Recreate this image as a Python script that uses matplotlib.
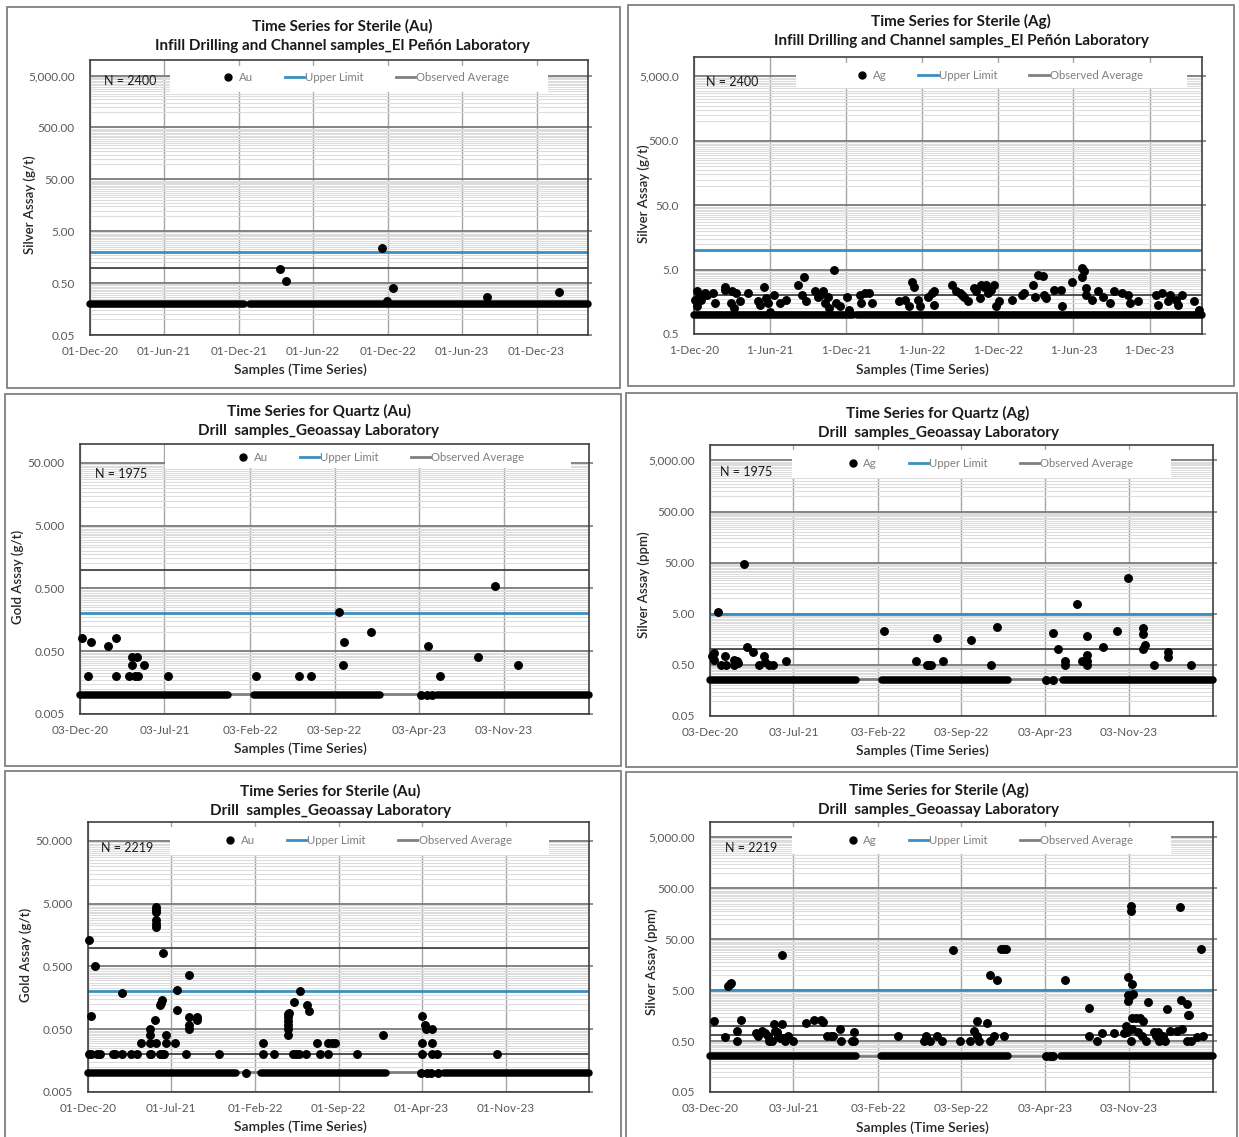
import numpy as np
import pandas as pd
import matplotlib
matplotlib.use("Agg")
import matplotlib.pyplot as plt
from matplotlib.ticker import FixedLocator, FuncFormatter, NullFormatter
from matplotlib.patches import Rectangle
from matplotlib.lines import Line2D

plt.rcParams['font.family'] = ['Lato', 'DejaVu Sans']

######################## DATA ############################

# --- Sterile (Au), infill drilling & channels, El Peñón lab ---
p1_dates = ["2022-03-13", "2022-03-26", "2022-11-17", "2022-11-30", "2022-12-13",
            "2023-08-01", "2024-01-24"]
p1_values = [0.95, 0.56, 2.4, 0.23, 0.40, 0.27, 0.33]
p1_runs = [("2020-12-01", "2021-12-13"), ("2021-12-29", "2024-04-05")]
p1_base = 0.2
p1_upper = 2.0
p1_avg = 0.21
p1_refs = [1.0]

# --- Sterile (Ag), infill drilling & channels, El Peñón lab ---
p2_dates = ["2020-12-04", "2020-12-09", "2020-12-09", "2020-12-13", "2020-12-18", "2020-12-28",
            "2021-01-02", "2021-01-16", "2021-01-21", "2021-02-14", "2021-02-14", "2021-02-28",
            "2021-03-03", "2021-03-07", "2021-03-12", "2021-03-22", "2021-04-10", "2021-05-04",
            "2021-05-08", "2021-05-18", "2021-05-23", "2021-05-27", "2021-06-02", "2021-06-11",
            "2021-06-25", "2021-07-10", "2021-08-07", "2021-08-22", "2021-08-17", "2021-08-27",
            "2021-09-19", "2021-09-24", "2021-09-29", "2021-10-08", "2021-10-13", "2021-10-18",
            "2021-10-22", "2021-11-02", "2021-11-07", "2021-11-16", "2021-12-04", "2021-12-09",
            "2022-01-03", "2022-01-07", "2022-01-16", "2022-01-26", "2022-02-01", "2022-04-07",
            "2022-04-21", "2022-05-01", "2022-05-10", "2022-05-14", "2022-05-24", "2022-05-28",
            "2022-06-16", "2022-06-26", "2022-07-01", "2022-07-01", "2022-08-13", "2022-08-22",
            "2022-09-02", "2022-09-07", "2022-09-11", "2022-09-21", "2022-10-04", "2022-10-09",
            "2022-10-19", "2022-10-23", "2022-10-28", "2022-11-02", "2022-11-07", "2022-11-16",
            "2022-11-21", "2022-11-26", "2022-12-05", "2023-01-04", "2023-01-28", "2023-02-01",
            "2023-02-24", "2023-03-01", "2023-03-09", "2023-03-19", "2023-03-23", "2023-03-28",
            "2023-04-16", "2023-05-01", "2023-05-05", "2023-05-29", "2023-06-22", "2023-06-27",
            "2023-06-22", "2023-07-02", "2023-07-02", "2023-07-16", "2023-07-31", "2023-08-10",
            "2023-08-28", "2023-09-07", "2023-09-26", "2023-10-10", "2023-10-15", "2023-11-03",
            "2023-12-16", "2023-12-21", "2024-01-01", "2024-01-14", "2024-01-19", "2024-02-02",
            "2024-02-07", "2024-02-16", "2024-03-16", "2024-03-29"]
p2_values = [1.7, 2.3, 1.35, 1.9, 1.7, 2.15,
             2.0, 2.15, 1.5, 2.7, 2.4, 1.5,
             2.3, 1.25, 2.15, 1.6, 2.15, 1.6,
             1.4, 2.7, 1.8, 1.5, 1.1, 2.0,
             1.5, 1.7, 2.9, 3.9, 2.0, 1.6,
             2.3, 1.9, 2.0, 2.3, 1.5, 1.9,
             1.25, 5.0, 1.5, 1.35, 1.9, 1.2,
             2.0, 1.5, 2.15, 2.15, 1.5, 1.6,
             1.7, 1.35, 3.25, 2.7, 1.7, 1.35,
             1.9, 2.15, 2.3, 1.4, 2.9, 2.3,
             2.15, 2.0, 1.9, 1.6, 2.55, 2.3,
             1.8, 2.9, 2.7, 2.9, 2.15, 2.4,
             2.9, 1.35, 1.6, 1.7, 2.0, 2.15,
             2.9, 1.9, 4.1, 4.0, 2.0, 1.8,
             2.4, 2.4, 1.35, 3.25, 5.2, 4.7,
             3.9, 2.55, 2.0, 1.7, 2.3, 1.9,
             1.5, 2.3, 2.15, 2.0, 1.5, 1.6,
             2.0, 1.4, 2.15, 1.6, 2.0, 1.7,
             1.4, 2.0, 1.6, 1.2]
p2_runs = [("2020-12-01", "2021-12-19"), ("2021-12-28", "2024-04-05")]
p2_base = 1.0
p2_upper = 10.0
p2_avg = 1.1
p2_refs = [2.0]

# --- Quartz (Au), drill samples, Geoassay lab ---
p3_dates = ["2020-12-07", "2020-12-24", "2020-12-31", "2021-02-11", "2021-03-03", "2021-03-04",
            "2021-04-04", "2021-04-12", "2021-04-12", "2021-04-19", "2021-04-26", "2021-04-27",
            "2021-05-13", "2021-07-12", "2022-02-18", "2022-06-07", "2022-07-06", "2022-09-14",
            "2022-09-24", "2022-09-27", "2022-12-04", "2023-04-07", "2023-04-24", "2023-04-25",
            "2023-05-07", "2023-05-25", "2023-08-29", "2023-10-11", "2023-12-07"]
p3_values = [0.08, 0.02, 0.07, 0.06, 0.08, 0.02,
             0.02, 0.04, 0.03, 0.02, 0.04, 0.02,
             0.03, 0.02, 0.02, 0.02, 0.02, 0.21,
             0.03, 0.07, 0.1, 0.01, 0.01, 0.06,
             0.01, 0.02, 0.04, 0.54, 0.03]
p3_runs = [("2020-12-03", "2021-12-10"), ("2022-02-12", "2022-12-27"), ("2023-05-18", "2024-06-03")]
p3_base = 0.01
p3_upper = 0.2
p3_avg = 0.0105
p3_refs = [1.0]

# --- Quartz (Ag), drill samples, Geoassay lab ---
p4_dates = ["2020-12-07", "2020-12-12", "2020-12-13", "2020-12-23", "2020-12-30", "2021-01-09",
            "2021-01-12", "2021-02-01", "2021-02-03", "2021-02-09", "2021-02-13", "2021-02-28",
            "2021-03-07", "2021-03-21", "2021-04-06", "2021-04-19", "2021-04-21", "2021-05-02",
            "2021-05-12", "2021-06-15", "2022-02-18", "2022-05-11", "2022-06-08", "2022-06-13",
            "2022-06-18", "2022-07-04", "2022-07-18", "2022-09-28", "2022-11-16", "2022-12-03",
            "2023-04-06", "2023-04-24", "2023-04-24", "2023-05-05", "2023-05-25", "2023-05-25",
            "2023-06-23", "2023-07-05", "2023-07-18", "2023-07-18", "2023-07-18", "2023-07-18",
            "2023-08-29", "2023-10-04", "2023-10-30", "2023-12-07", "2023-12-07", "2023-12-07",
            "2023-12-13", "2024-01-04", "2024-02-10", "2024-02-10", "2024-04-09"]
p4_values = [0.73, 0.63, 0.85, 5.3, 0.5, 0.73,
             0.5, 0.5, 0.63, 0.6, 0.54, 48.0,
             1.13, 0.88, 0.5, 0.73, 0.58, 0.5,
             0.5, 0.6, 2.32, 0.6, 0.5, 0.5,
             0.5, 1.71, 0.6, 1.5, 0.5, 2.74,
             0.25, 2.12, 0.25, 1.0, 0.6, 0.5,
             7.85, 0.6, 1.8, 0.78, 0.6, 0.5,
             1.13, 2.32, 24.5, 2.6, 2.05, 1.0,
             1.2, 0.5, 0.9, 0.7, 0.5]
p4_runs = [("2020-12-03", "2021-12-08"), ("2022-02-13", "2022-12-30"), ("2023-05-19", "2024-06-03")]
p4_base = 0.25
p4_upper = 5.0
p4_avg = 0.26
p4_refs = [1.0]

# --- Sterile (Au), drill samples, Geoassay lab ---
p5_dates = ["2020-12-03", "2020-12-08", "2020-12-20", "2020-12-04", "2020-12-09", "2020-12-24",
            "2020-12-31", "2021-02-02", "2021-02-07", "2021-02-26", "2021-02-26", "2021-03-20",
            "2021-04-04", "2021-04-14", "2021-05-07", "2021-05-07", "2021-05-07", "2021-05-07",
            "2021-05-11", "2021-05-22", "2021-05-24", "2021-05-24", "2021-05-24", "2021-05-24",
            "2021-05-24", "2021-05-24", "2021-05-24", "2021-06-03", "2021-06-03", "2021-06-05",
            "2021-06-08", "2021-06-08", "2021-06-11", "2021-06-13", "2021-06-19", "2021-06-19",
            "2021-07-11", "2021-07-16", "2021-07-17", "2021-08-08", "2021-08-15", "2021-08-15",
            "2021-08-15", "2021-08-15", "2021-09-04", "2021-09-04", "2021-11-01", "2022-01-07",
            "2022-02-20", "2022-02-20", "2022-03-20", "2022-04-25", "2022-04-25", "2022-04-25",
            "2022-04-25", "2022-04-25", "2022-04-25", "2022-04-29", "2022-05-07", "2022-05-10",
            "2022-05-15", "2022-05-22", "2022-05-27", "2022-06-10", "2022-06-13", "2022-06-19",
            "2022-07-09", "2022-07-16", "2022-08-05", "2022-08-05", "2022-08-15", "2022-08-23",
            "2022-10-19", "2022-12-24", "2023-03-30", "2023-04-01", "2023-04-01", "2023-04-01",
            "2023-04-09", "2023-04-11", "2023-04-14", "2023-04-26", "2023-04-27", "2023-04-27",
            "2023-04-27", "2023-05-09", "2023-05-12", "2023-10-11"]
p5_values = [1.32, 0.08, 0.5, 0.02, 0.02, 0.02,
             0.02, 0.02, 0.02, 0.02, 0.19, 0.02,
             0.02, 0.03, 0.02, 0.03, 0.04, 0.05,
             0.02, 0.07, 0.03, 4.4, 4.0, 3.65,
             2.7, 2.4, 2.15, 0.02, 0.12, 0.133,
             0.02, 0.148, 0.81, 0.02, 0.04, 0.03,
             0.03, 0.21, 0.1, 0.02, 0.36, 0.078,
             0.059, 0.05, 0.078, 0.07, 0.02, 0.01,
             0.03, 0.02, 0.02, 0.088, 0.078, 0.067,
             0.058, 0.05, 0.04, 0.092, 0.02, 0.137,
             0.02, 0.02, 0.2, 0.02, 0.12, 0.098,
             0.03, 0.02, 0.03, 0.02, 0.03, 0.03,
             0.02, 0.04, 0.01, 0.08, 0.03, 0.02,
             0.059, 0.051, 0.01, 0.01, 0.05, 0.03,
             0.02, 0.02, 0.01, 0.02]
p5_runs = [("2020-12-01", "2021-12-14"), ("2022-02-15", "2023-01-01"), ("2023-05-29", "2024-06-01")]
p5_base = 0.01
p5_upper = 0.2
p5_avg = 0.0105
p5_refs = [1.0, 0.02]

# --- Sterile (Ag), drill samples, Geoassay lab ---
p6_dates = ["2020-12-12", "2021-01-11", "2021-01-19", "2021-01-22", "2021-01-25", "2021-02-10",
            "2021-02-10", "2021-02-19", "2021-03-30", "2021-04-04", "2021-04-14", "2021-04-22",
            "2021-04-29", "2021-05-02", "2021-05-09", "2021-05-14", "2021-05-16", "2021-05-22",
            "2021-05-26", "2021-05-29", "2021-06-03", "2021-06-03", "2021-06-08", "2021-06-11",
            "2021-06-18", "2021-07-03", "2021-08-03", "2021-08-23", "2021-09-12", "2021-09-16",
            "2021-09-26", "2021-10-06", "2021-10-11", "2021-10-29", "2021-11-02", "2021-11-30",
            "2021-12-03", "2021-12-05", "2022-03-26", "2022-05-31", "2022-06-06", "2022-06-14",
            "2022-07-03", "2022-07-15", "2022-08-12", "2022-08-29", "2022-09-24", "2022-10-06",
            "2022-10-13", "2022-10-13", "2022-10-18", "2022-11-06", "2022-11-15", "2022-11-15",
            "2022-11-25", "2022-12-02", "2022-12-13", "2022-12-20", "2022-12-25", "2022-12-20",
            "2023-04-06", "2023-04-16", "2023-04-24", "2023-05-24", "2023-07-23", "2023-07-23",
            "2023-08-14", "2023-08-27", "2023-09-26", "2023-10-21", "2023-10-26", "2023-10-29",
            "2023-10-31", "2023-10-31", "2023-11-01", "2023-11-05", "2023-11-08", "2023-11-08",
            "2023-11-08", "2023-11-10", "2023-11-10", "2023-11-10", "2023-11-14", "2023-11-20",
            "2023-11-25", "2023-11-30", "2023-12-05", "2023-12-08", "2023-12-15", "2023-12-20",
            "2024-01-04", "2024-01-09", "2024-01-14", "2024-01-19", "2024-01-29", "2024-02-03",
            "2024-02-08", "2024-02-16", "2024-03-04", "2024-03-11", "2024-03-14", "2024-03-17",
            "2024-03-29", "2024-03-29", "2024-03-31", "2024-04-03", "2024-04-08", "2024-04-23",
            "2024-05-04", "2024-05-08"]
p6_values = [1.22, 0.6, 5.9, 6.5, 7.0, 0.8,
             0.5, 1.3, 0.72, 0.62, 0.8, 0.72,
             0.62, 0.5, 0.5, 1.08, 0.8, 0.77,
             0.64, 0.57, 25.0, 1.08, 0.57, 0.5,
             0.62, 0.5, 1.13, 1.32, 1.32, 1.2,
             0.62, 0.62, 0.62, 0.87, 0.5, 0.5,
             0.77, 0.5, 0.62, 0.5, 0.62, 0.5,
             0.62, 0.5, 30.0, 0.5, 0.5, 0.8,
             1.22, 0.62, 0.5, 1.13, 10.0, 0.5,
             0.62, 8.0, 32.0, 32.0, 32.0, 0.62,
             0.25, 0.25, 0.25, 8.0, 2.2, 0.62,
             0.5, 0.72, 0.72, 0.72, 0.98, 0.77,
             4.05, 3.0, 9.0, 3.9, 225.0, 175.0,
             0.5, 6.6, 0.87, 1.4, 4.2, 1.4,
             0.77, 1.4, 0.62, 1.22, 0.5, 2.9,
             0.77, 0.62, 0.77, 0.5, 0.62, 0.5,
             2.1, 0.8, 0.8, 218.0, 3.2, 0.87,
             2.7, 0.5, 1.6, 1.6, 0.5, 0.6,
             32.0, 0.62]
p6_runs = [("2020-12-03", "2021-12-10"), ("2022-02-10", "2022-12-30"), ("2023-05-14", "2024-06-03")]
p6_base = 0.25
p6_upper = 5.0
p6_avg = 0.26
p6_refs = [1.0, 0.67]

# axis ticks
ticks_6m = ["2020-12-01", "2021-06-01", "2021-12-01", "2022-06-01", "2022-12-01", "2023-06-01", "2023-12-01"]
ticks_7m_d3 = ["2020-12-03", "2021-07-03", "2022-02-03", "2022-09-03", "2023-04-03", "2023-11-03"]
ticks_7m_d1 = ["2020-12-01", "2021-07-01", "2022-02-01", "2022-09-01", "2023-04-01", "2023-11-01"]

######################## LAYOUT ############################

W, H = 1239, 1137
BLUE = '#3b8ec2'
GREY = '#808080'

def fig_rect(x0, y0, x1, y1):
    return [x0 / W, 1 - y1 / H, (x1 - x0) / W, (y1 - y0) / H]

lab_sub_ep = "Infill Drilling and Channel samples_El Peñón Laboratory"
lab_sub_geo = "Drill  samples_Geoassay Laboratory"

panels = [
    dict(dates=p1_dates, values=p1_values, runs=p1_runs, base=p1_base, upper=p1_upper, avg=p1_avg,
         refs=p1_refs, element="Au", n=2400, title="Time Series for Sterile (Au)", sub=lab_sub_ep,
         ylabel="Silver Assay (g/t)", ymin=0.05, ndec=5, yfmt="{:,.2f}", xticks=ticks_6m,
         xstart="2020-12-01", xend="2024-04-05", nodpad=False,
         border=(7, 7, 620, 388), axes=(90, 60, 588, 335), title_xy=(342, 26),
         xlabel_xy=(300, 370), ylabel_xy=(30, 205), box=(0.16, 0.885, 0.92, 0.98),
         leg=(0.55, 0.935), nxy=(0.028, 0.925)),
    dict(dates=p2_dates, values=p2_values, runs=p2_runs, base=p2_base, upper=p2_upper, avg=p2_avg,
         refs=p2_refs, element="Ag", n=2400, title="Time Series for Sterile (Ag)", sub=lab_sub_ep,
         ylabel="Silver Assay (g/t)", ymin=0.5, ndec=4, yfmt="{:,.1f}", xticks=ticks_6m,
         xstart="2020-12-01", xend="2024-04-05", nodpad=True,
         border=(628, 5, 1234, 386), axes=(694, 57, 1202, 334), title_xy=(961, 21),
         xlabel_xy=(922, 370), ylabel_xy=(644, 194), box=(0.2, 0.888, 0.97, 0.978),
         leg=(0.598, 0.935), nxy=(0.024, 0.91)),
    dict(dates=p3_dates, values=p3_values, runs=p3_runs, base=p3_base, upper=p3_upper, avg=p3_avg,
         refs=p3_refs, element="Au", n=1975, title="Time Series for Quartz (Au)", sub=lab_sub_geo,
         ylabel="Gold Assay (g/t)", ymin=0.005, ndec=4, yfmt="{:,.3f}", xticks=ticks_7m_d3,
         xstart="2020-12-03", xend="2024-06-03", nodpad=False,
         border=(5, 394, 621, 766), axes=(80, 444, 589, 714), title_xy=(319, 411),
         xlabel_xy=(300, 749), ylabel_xy=(18, 577), box=(0.167, 0.91, 0.965, 1.0),
         leg=(0.587, 0.95), nxy=(0.03, 0.89)),
    dict(dates=p4_dates, values=p4_values, runs=p4_runs, base=p4_base, upper=p4_upper, avg=p4_avg,
         refs=p4_refs, element="Ag", n=1975, title="Time Series for Quartz (Ag)", sub=lab_sub_geo,
         ylabel="Silver Assay (ppm)", ymin=0.05, ndec=5, yfmt="{:,.2f}", xticks=ticks_7m_d3,
         xstart="2020-12-03", xend="2024-06-03", nodpad=False,
         border=(626, 393, 1237, 767), axes=(710, 445, 1213, 716), title_xy=(938, 413),
         xlabel_xy=(922, 751), ylabel_xy=(644, 585), box=(0.163, 0.88, 0.917, 0.98),
         leg=(0.553, 0.93), nxy=(0.02, 0.9)),
    dict(dates=p5_dates, values=p5_values, runs=p5_runs, base=p5_base, upper=p5_upper, avg=p5_avg,
         refs=p5_refs, element="Au", n=2219, title="Time Series for Sterile (Au)", sub=lab_sub_geo,
         ylabel="Gold Assay (g/t)", ymin=0.005, ndec=4, yfmt="{:,.3f}", xticks=ticks_7m_d1,
         xstart="2020-12-01", xend="2024-06-01", nodpad=False,
         border=(5, 771, 621, 1150), axes=(88, 822, 589, 1092), title_xy=(330, 791),
         xlabel_xy=(300, 1127), ylabel_xy=(26, 955), box=(0.164, 0.878, 0.92, 0.98),
         leg=(0.555, 0.93), nxy=(0.026, 0.904)),
    dict(dates=p6_dates, values=p6_values, runs=p6_runs, base=p6_base, upper=p6_upper, avg=p6_avg,
         refs=p6_refs, element="Ag", n=2219, title="Time Series for Sterile (Ag)", sub=lab_sub_geo,
         ylabel="Silver Assay (ppm)", ymin=0.05, ndec=5, yfmt="{:,.2f}", xticks=ticks_7m_d3,
         xstart="2020-12-03", xend="2024-06-03", nodpad=False,
         border=(626, 772, 1237, 1150), axes=(710, 822, 1213, 1092), title_xy=(939, 790),
         xlabel_xy=(922, 1128), ylabel_xy=(652, 962), box=(0.163, 0.88, 0.917, 0.98),
         leg=(0.553, 0.93), nxy=(0.03, 0.904)),
]

######################## PLOTS ############################

fig = plt.figure(figsize=(W / 100, H / 100), dpi=100)
fig.patch.set_facecolor('white')

for p in panels:
    # chart frame
    x0, y0, x1, y1 = p['border']
    fig.add_artist(Rectangle((x0 / W, 1 - y1 / H), (x1 - x0) / W, (y1 - y0) / H,
                             transform=fig.transFigure, fill=False, ec='#808080', lw=1.3))

    ax = fig.add_axes(fig_rect(*p['axes']))
    ax.set_yscale('log')
    majors = p['ymin'] * 10.0 ** np.arange(p['ndec'] + 1)
    ax.set_ylim(p['ymin'], majors[-1] * 2)
    minors = [b * k for b in majors[:-1] for k in np.arange(2.0, 10, 0.5)]
    ax.yaxis.set_major_locator(FixedLocator(majors))
    ax.yaxis.set_minor_locator(FixedLocator(minors))
    fmt = p['yfmt']
    ax.yaxis.set_major_formatter(FuncFormatter(lambda v, pos, f=fmt: f.format(v)))
    ax.yaxis.set_minor_formatter(NullFormatter())

    xt = pd.to_datetime(p['xticks'])
    ax.set_xlim(pd.Timestamp(p['xstart']), pd.Timestamp(p['xend']))
    ax.set_xticks(xt)
    if p['nodpad']:
        ax.set_xticklabels([f"{d.day}-{d:%b-%y}" for d in xt])
    else:
        ax.set_xticklabels([d.strftime('%d-%b-%y') for d in xt])

    ax.set_axisbelow(True)
    ax.yaxis.grid(True, which='minor', color='#dcdcdc', lw=0.75)
    ax.yaxis.grid(True, which='major', color='#7a7a7a', lw=1.3)
    ax.xaxis.grid(True, which='major', color='#a6a6a6', lw=1.0)

    ax.tick_params(axis='both', which='both', length=0, labelsize=8.5, labelcolor='#595959')
    ax.tick_params(axis='y', which='major', pad=8, right=True, length=3, width=1.2,
                   color='#7a7a7a', left=False)
    ax.tick_params(axis='x', pad=8)
    for s in ax.spines.values():
        s.set_color('#404040')
        s.set_linewidth(1.2)

    # white legend area
    bx0, by0, bx1, by1 = p['box']
    ax.add_patch(Rectangle((bx0, by0), bx1 - bx0, by1 - by0, transform=ax.transAxes,
                           facecolor='white', edgecolor='none', zorder=1.2))

    ax.axhline(p['avg'], color=GREY, lw=2, zorder=2)
    for r in p['refs']:
        ax.axhline(r, color='#262626', lw=1.1, zorder=2)
    ax.axhline(p['upper'], color=BLUE, lw=2, zorder=2)

    # continuous stretches of samples sitting at the detection level
    for s, e in p['runs']:
        ax.plot([pd.Timestamp(s), pd.Timestamp(e)], [p['base'], p['base']], color='black',
                lw=5.4, solid_capstyle='round', clip_on=False, zorder=3)
    ax.plot(pd.to_datetime(p['dates']), p['values'], 'o', color='black', ms=5.4,
            clip_on=False, zorder=4)

    handles = [Line2D([], [], marker='o', ls='none', color='black', ms=5),
               Line2D([], [], color=BLUE, lw=2),
               Line2D([], [], color=GREY, lw=2)]
    ax.legend(handles, [p['element'], "Upper Limit", "Observed Average"], loc='center',
              bbox_to_anchor=p['leg'], ncol=3, frameon=False, fontsize=8.2,
              labelcolor='#7f7f7f', handlelength=1.7, handletextpad=0.1, columnspacing=2.8)

    ax.text(p['nxy'][0], p['nxy'][1], f"N = {p['n']}", transform=ax.transAxes, fontsize=9,
            ha='left', va='center', color='#1a1a1a', zorder=5)

    tx, ty = p['title_xy']
    fig.text(tx / W, 1 - ty / H, p['title'], ha='center', va='center', fontsize=11,
             fontweight='bold', color='#1a1a1a')
    fig.text(tx / W, 1 - (ty + 20) / H, p['sub'], ha='center', va='center', fontsize=11,
             fontweight='bold', color='#1a1a1a')
    lx, ly = p['xlabel_xy']
    fig.text(lx / W, 1 - ly / H, "Samples (Time Series)", ha='center', va='center',
             fontsize=10, fontweight='semibold', color='#262626')
    yx, yy = p['ylabel_xy']
    fig.text(yx / W, 1 - yy / H, p['ylabel'], ha='center', va='center', rotation=90,
             fontsize=9.5, fontweight='semibold', color='#262626')

fig.savefig('out.png', dpi=100, facecolor='white')
